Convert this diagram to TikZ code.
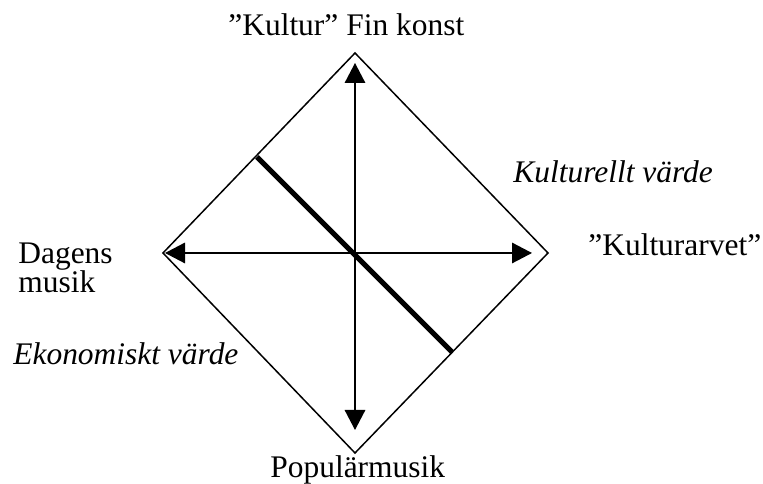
\documentclass[tikz,border=0pt]{standalone}
\usepackage{fontspec}
\setmainfont{Liberation Serif}
\usetikzlibrary{arrows.meta}

\begin{document}
\begin{tikzpicture}[
	axis/.style={line width=0.03cm, {Triangle[length=0.4cm,width=0.41cm]}-{Triangle[length=0.4cm,width=0.41cm]}},
	lbl/.style={inner sep=0pt, font=\fontsize{17.9}{16.5}\selectfont}]
			\useasboundingbox (0,0) rectangle (15.26,9.68);
			% diamond corners
			\coordinate (top) at (7.10,8.62);
			\coordinate (right) at (10.96,4.62);
			\coordinate (bottom) at (7.10,0.62);
			\coordinate (left) at (3.26,4.62);
			\draw[line width=0.03cm, line join=miter] (top) -- (right) -- (bottom) -- (left) -- cycle;
			% axes
			\coordinate (up) at (7.10,8.42);
			\coordinate (down) at (7.10,1.08);
			\coordinate (west) at (3.30,4.62);
			\coordinate (east) at (10.64,4.62);
			\draw[axis] (down) -- (up);
			\draw[axis] (west) -- (east);
			\coordinate (cutA) at (5.14,6.54);
			\coordinate (cutB) at (9.04,2.64);
			\draw[line width=0.1cm] (cutA) -- (cutB);
			% labels
			\node[lbl, anchor=base west] (fin) at (4.56,8.96) {”Kultur” Fin konst};
			\node[lbl, anchor=base west, font=\fontsize{17.9}{16.5}\selectfont\itshape] (kulturvarde) at (10.26,6.02) {Kulturellt värde};
			\node[lbl, anchor=base west] (arv) at (11.76,4.56) {”Kulturarvet”};
			\node[lbl, anchor=west, align=left] (dagens) at (0.36,4.32) {Dagens\\musik};
			\node[lbl, anchor=base west, font=\fontsize{17.9}{16.5}\selectfont\itshape] (ekonomi) at (0.26,2.38) {Ekonomiskt värde};
			\node[lbl, anchor=base west] (pop) at (5.40,0.12) {Populärmusik};
		\end{tikzpicture}
\end{document}
